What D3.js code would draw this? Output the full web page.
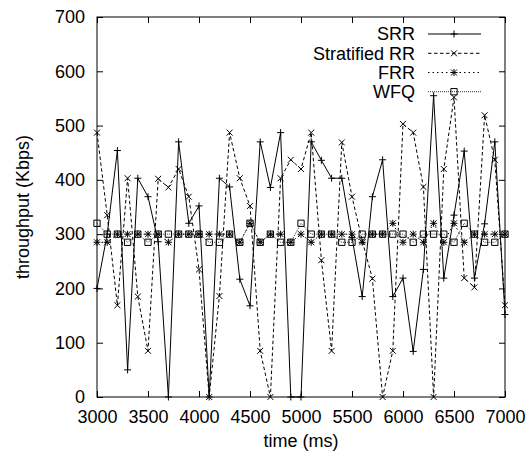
<!DOCTYPE html>
<html><head><meta charset="utf-8">
<script src="https://cdn.jsdelivr.net/npm/d3@7"></script>
<style>
body{margin:0;background:#fff}
svg{display:block}
text{font-family:"Liberation Sans",Arial,Helvetica,sans-serif;fill:#000}
</style>
</head><body>
<svg id="chart" width="529" height="455"></svg>
<script>
const times = [3000,3100,3200,3300,3400,3500,3600,3700,3800,3900,4000,4100,4200,4300,4400,4500,4600,4700,4800,4900,5000,5100,5200,5300,5400,5500,5600,5700,5800,5900,6000,6100,6200,6300,6400,6500,6600,6700,6800,6900,7000];
const srr = [200,300,454,50,403,369,286,0,470,320,352,0,403,387,217,168,470,386,487,0,0,470,436,403,403,294,185,369,437,185,219,84,235,555,219,335,453,219,319,470,152];
const stratified = [487,335,169,403,185,85,402,386,420,369,235,0,186,487,403,352,85,0,403,437,420,487,252,85,469,369,288,218,0,85,503,487,387,0,420,552,219,202,519,437,169];
const frr = [285,285,300,300,300,300,300,285,300,300,300,300,300,300,285,320,285,300,300,285,300,285,300,300,300,300,285,300,300,320,285,300,285,320,285,320,285,300,300,300,300];
const wfq = [320,300,300,285,300,285,300,300,300,300,300,285,285,300,285,320,285,300,285,285,320,300,300,300,285,285,300,300,300,300,300,285,300,300,300,285,320,300,285,285,300];
const xTicks = [3000,3500,4000,4500,5000,5500,6000,6500,7000];
const yTicks = [0,100,200,300,400,500,600,700];
const seriesNames = ["SRR","Stratified RR","FRR","WFQ"];

const svg = d3.select("#chart");
const L = 97, R = 505, T = 17, B = 397;
const x = d3.scaleLinear().domain([3000,7000]).range([L,R]);
const y = d3.scaleLinear().domain([0,700]).range([B,T]);

// custom stroke-only symbols
const plusSym = {draw(c,s){const r=Math.sqrt(s)/2;c.moveTo(-r,0);c.lineTo(r,0);c.moveTo(0,-r);c.lineTo(0,r);}};
const crossSym = {draw(c,s){const r=Math.sqrt(s)/2*0.85;c.moveTo(-r,-r);c.lineTo(r,r);c.moveTo(-r,r);c.lineTo(r,-r);}};
const starSym = {draw(c,s){plusSym.draw(c,s);crossSym.draw(c,s);}};
const sqSym = {draw(c,s){const r=Math.sqrt(s)/2*0.9;c.moveTo(-r,-r);c.lineTo(r,-r);c.lineTo(r,r);c.lineTo(-r,r);c.closePath();}};

const series = [
  {name:seriesNames[0], vals:srr, dash:null, sym:plusSym, lc:"#000", lw:1},
  {name:seriesNames[1], vals:stratified, dash:"3.5,2.5", sym:crossSym, lc:"#000", lw:1},
  {name:seriesNames[2], vals:frr, dash:"1.5,3", sym:starSym, lc:"#000", lw:1},
  {name:seriesNames[3], vals:wfq, dash:"1,1", sym:sqSym, lc:"#000", lw:0.8}
];

const fs = 18;

// axes
const gB = svg.append("g").attr("transform",`translate(0,${B})`)
  .call(d3.axisBottom(x).tickValues(xTicks).tickFormat(d3.format("d")).tickSizeInner(-6).tickSizeOuter(0).tickPadding(13));
const gL = svg.append("g").attr("transform",`translate(${L},0)`)
  .call(d3.axisLeft(y).tickValues(yTicks).tickFormat(d3.format("d")).tickSizeInner(-6).tickSizeOuter(0).tickPadding(12));
const gT = svg.append("g").attr("transform",`translate(0,${T})`)
  .call(d3.axisTop(x).tickValues(xTicks).tickFormat("").tickSizeInner(-6).tickSizeOuter(0));
const gR = svg.append("g").attr("transform",`translate(${R},0)`)
  .call(d3.axisRight(y).tickValues(yTicks).tickFormat("").tickSizeInner(-6).tickSizeOuter(0));
[gB,gL,gT,gR].forEach(g=>{
  g.select(".domain").remove();
  g.selectAll(".tick line").attr("stroke","#000").attr("stroke-width",1);
  g.selectAll("text").attr("font-size",fs).attr("font-family",null).attr("fill","#000");
});

// series
const plot = svg.append("g");
series.forEach(s=>{
  const pts = times.map((t,i)=>[t,s.vals[i]]);
  const line = d3.line().x(d=>x(d[0])).y(d=>y(d[1]));
  plot.append("path").attr("d",line(pts)).attr("fill","none")
    .attr("stroke",s.lc).attr("stroke-width",s.lw)
    .attr("stroke-dasharray",s.dash);
  const sym = d3.symbol().type(s.sym).size(49);
  plot.selectAll(null).data(pts).enter().append("path")
    .attr("d",sym).attr("transform",d=>`translate(${x(d[0])},${y(d[1])})`)
    .attr("fill","none").attr("stroke","#000").attr("stroke-width",1);
});

// frame
svg.append("rect").attr("x",L).attr("y",T).attr("width",R-L).attr("height",B-T)
  .attr("fill","none").attr("stroke","#000").attr("stroke-width",1);

// legend
const legY = [34,53.3,72.5,91.7];
series.forEach((s,i)=>{
  const g = svg.append("g").attr("transform",`translate(0,${legY[i]})`);
  g.append("text").attr("x",415).attr("y",0).attr("dy","0.35em").attr("text-anchor","end")
    .attr("font-size",fs).text(s.name);
  g.append("line").attr("x1",428).attr("x2",481).attr("y1",0).attr("y2",0)
    .attr("stroke",s.lc).attr("stroke-width",s.lw).attr("stroke-dasharray",s.dash);
  g.append("path").attr("d",d3.symbol().type(s.sym).size(49)).attr("transform","translate(454,0)")
    .attr("fill","none").attr("stroke","#000");
});

// axis titles
svg.append("text").attr("x",(L+R)/2).attr("y",447).attr("text-anchor","middle")
  .attr("font-size",fs).text("time (ms)");
svg.append("text").attr("transform",`translate(29,${(T+B)/2}) rotate(-90)`)
  .attr("text-anchor","middle").attr("font-size",fs).text("throughput (Kbps)");
</script>
</body></html>
